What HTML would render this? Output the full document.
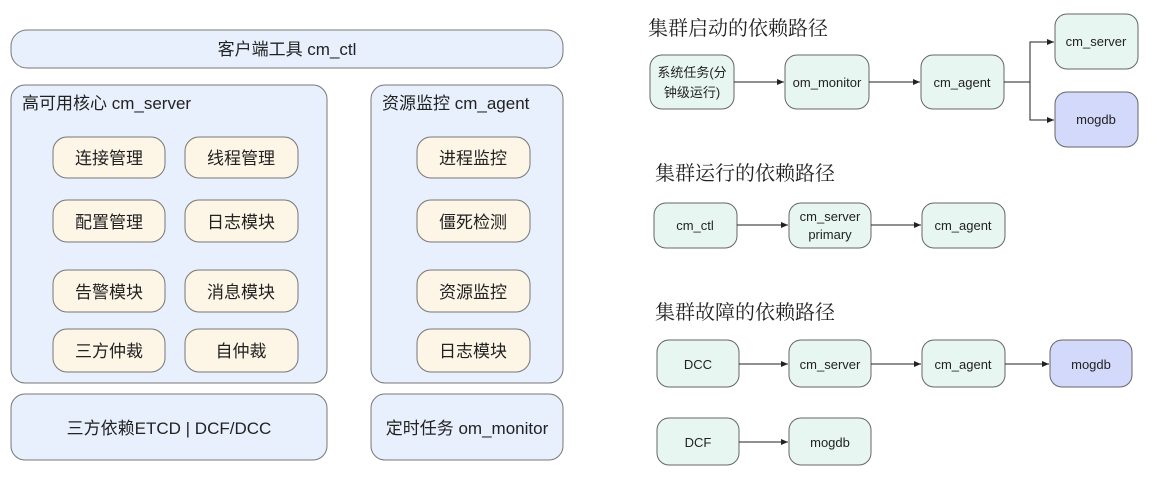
<!DOCTYPE html>
<html><head><meta charset="utf-8"><style>
body{margin:0;background:#fff;width:1157px;height:475px;overflow:hidden}
text{font-family:"Liberation Sans","Noto Sans CJK SC",sans-serif;fill:#222}
</style></head><body>
<svg width="1157" height="475" xmlns="http://www.w3.org/2000/svg">
<defs><marker id="a" markerWidth="8" markerHeight="8" refX="7" refY="4" orient="auto" markerUnits="userSpaceOnUse"><path d="M0,1 L7,4 L0,7z" fill="#222"/></marker></defs>
<g stroke="#777" stroke-width="1" fill="#e8f0fe">
<rect x="11" y="30" width="552" height="38" rx="16"/>
<rect x="11" y="85" width="316" height="298" rx="14"/>
<rect x="371" y="85" width="192" height="298" rx="14"/>
<rect x="11" y="394" width="316" height="66" rx="14"/>
<rect x="371" y="394" width="192" height="66" rx="14"/>
</g>
<g stroke="#777" fill="#fdf6e7">
<rect x="53" y="137" width="112" height="41" rx="14"/><rect x="185" y="137" width="113" height="41" rx="14"/>
<rect x="53" y="200" width="112" height="42" rx="14"/><rect x="185" y="200" width="113" height="42" rx="14"/>
<rect x="53" y="270" width="112" height="42" rx="14"/><rect x="185" y="270" width="113" height="42" rx="14"/>
<rect x="53" y="329" width="112" height="43" rx="14"/><rect x="185" y="329" width="113" height="43" rx="14"/>
<rect x="417" y="137" width="113" height="41" rx="14"/><rect x="417" y="200" width="113" height="42" rx="14"/>
<rect x="417" y="270" width="113" height="42" rx="14"/><rect x="417" y="329" width="113" height="43" rx="14"/>
</g>
<g font-size="17" text-anchor="middle">
<text x="287" y="55">客户端工具 cm_ctl</text>
<text x="22" y="109" text-anchor="start">高可用核心 cm_server</text>
<text x="382" y="109" text-anchor="start">资源监控 cm_agent</text>
<text x="109" y="164">连接管理</text><text x="241" y="164">线程管理</text>
<text x="109" y="228">配置管理</text><text x="241" y="228">日志模块</text>
<text x="109" y="298">告警模块</text><text x="241" y="298">消息模块</text>
<text x="109" y="357">三方仲裁</text><text x="241" y="357">自仲裁</text>
<text x="473" y="164">进程监控</text><text x="473" y="228">僵死检测</text>
<text x="473" y="298">资源监控</text><text x="473" y="357">日志模块</text>
<text x="169" y="434">三方依赖ETCD | DCF/DCC</text>
<text x="467" y="434">定时任务 om_monitor</text>
</g>
<g font-size="20">
<text x="648" y="35" style="font-family:'Noto Serif CJK SC',serif">集群启动的依赖路径</text>
<text x="655" y="180" style="font-family:'Noto Serif CJK SC',serif">集群运行的依赖路径</text>
<text x="655" y="319" style="font-family:'Noto Serif CJK SC',serif">集群故障的依赖路径</text>
</g>
<g stroke="#666" fill="#e8f6f2">
<rect x="650" y="55" width="84" height="54" rx="12"/>
<rect x="785" y="55" width="84" height="54" rx="12"/>
<rect x="921" y="55" width="83" height="54" rx="12"/>
<rect x="1055" y="14" width="83" height="55" rx="12"/>
<rect x="1055" y="92" width="83" height="55" rx="12" fill="#d3d9fb"/>
<rect x="654" y="203" width="83" height="45" rx="12"/>
<rect x="789" y="203" width="82" height="45" rx="12"/>
<rect x="922" y="203" width="83" height="45" rx="12"/>
<rect x="657" y="340" width="82" height="47" rx="12"/>
<rect x="789" y="340" width="82" height="47" rx="12"/>
<rect x="922" y="340" width="83" height="47" rx="12"/>
<rect x="1050" y="340" width="82" height="47" rx="12" fill="#d3d9fb"/>
<rect x="657" y="418" width="82" height="47" rx="12"/>
<rect x="789" y="418" width="82" height="47" rx="12"/>
</g>
<g stroke="#222" stroke-width="1" fill="none" marker-end="url(#a)">
<path d="M734,82H784"/><path d="M869,82H920"/>
<path d="M1004,82H1030V42H1054"/><path d="M1030,82V120H1054"/>
<path d="M737,225H788"/><path d="M871,225H921"/>
<path d="M739,364H788"/><path d="M871,364H921"/><path d="M1005,364H1049"/>
<path d="M739,442H788"/>
</g>
<g font-size="13" text-anchor="middle">
<text x="692" y="77">系统任务(分</text><text x="692" y="97">钟级运行)</text>
<text x="827" y="87">om_monitor</text>
<text x="962" y="87">cm_agent</text>
<text x="1096" y="46">cm_server</text>
<text x="1096" y="124">mogdb</text>
<text x="695" y="230">cm_ctl</text>
<text x="830" y="221">cm_server</text><text x="830" y="239">primary</text>
<text x="963" y="230">cm_agent</text>
<text x="698" y="369">DCC</text><text x="830" y="369">cm_server</text>
<text x="963" y="369">cm_agent</text><text x="1091" y="369">mogdb</text>
<text x="698" y="447">DCF</text><text x="830" y="447">mogdb</text>
</g>
</svg>
</body></html>
